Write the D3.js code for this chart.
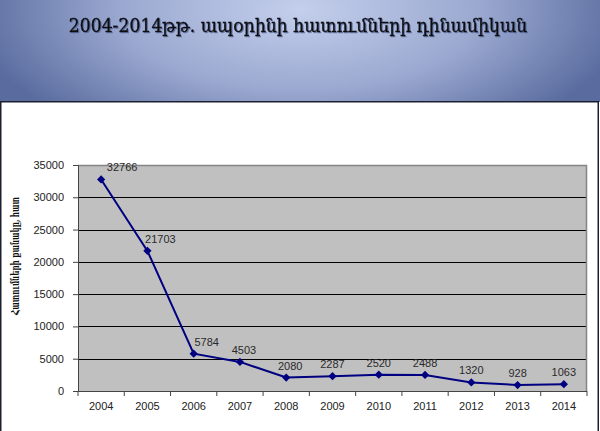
<!DOCTYPE html>
<html><head><meta charset="utf-8">
<script src="https://cdn.jsdelivr.net/npm/d3@7"></script>
<style>body{margin:0;background:#fff;}svg{display:block;}</style>
</head><body>
<svg id="c" width="600" height="431"></svg>
<script>
const years = ["2004","2005","2006","2007","2008","2009","2010","2011","2012","2013","2014"];
const values = [32766,21703,5784,4503,2080,2287,2520,2488,1320,928,1063];
const yTicks = [0,5000,10000,15000,20000,25000,30000,35000];
const titleText = "2004-2014թթ. ապօրինի հատումների դինամիկան";
const yLabelText = "Հատումների քանակը, հատ";

const svg = d3.select("#c");
const defs = svg.append("defs");
const rg = defs.append("radialGradient").attr("id","hg")
  .attr("gradientUnits","userSpaceOnUse")
  .attr("cx",300).attr("cy",10).attr("r",330).attr("fx",300).attr("fy",10)
  .attr("gradientTransform","translate(300,10) scale(1,0.45) translate(-300,-10)");
rg.append("stop").attr("offset",0).attr("stop-color","#c4cfec");
rg.append("stop").attr("offset",0.55).attr("stop-color","#9aa8d0");
rg.append("stop").attr("offset",1).attr("stop-color","#5a6c9f");

svg.append("rect").attr("x",0).attr("y",0).attr("width",600).attr("height",102).attr("fill","url(#hg)");

const f = defs.append("filter").attr("id","sh").attr("filterUnits","userSpaceOnUse")
  .attr("x",0).attr("y",0).attr("width",600).attr("height",60);
f.append("feDropShadow").attr("dx",1).attr("dy",1).attr("stdDeviation",0.6).attr("flood-color","#4a5a86").attr("flood-opacity",0.7);

const title = svg.append("text").attr("x",298).attr("y",32).attr("text-anchor","middle")
  .attr("font-family","'DejaVu Serif Condensed', 'DejaVu Serif', serif").attr("font-size",22)
  .attr("fill","#0a0a0a").attr("stroke","#0a0a0a").attr("stroke-width",0.35)
  .attr("filter","url(#sh)").text(titleText);
const tw = title.node().getComputedTextLength();
if (tw > 0) title.attr("font-size", Math.min(24, 22*459/tw));

// panel
svg.append("rect").attr("x",0.75).attr("y",101.75).attr("width",597.5).attr("height",340)
  .attr("fill","#fff").attr("stroke","#1c1f2e").attr("stroke-width",1.5);

const L=78, R=587, T=165, B=391;
const x = d3.scaleBand().domain(years).range([L,R]).padding(0);
const y = d3.scaleLinear().domain([0,35000]).range([B,T]);

svg.append("rect").attr("x",L).attr("y",T).attr("width",R-L).attr("height",B-T).attr("fill","#c0c0c0");

// gridlines
svg.append("g").selectAll("line").data(yTicks.filter(v=>v>0 && v<35000)).join("line")
  .attr("x1",L).attr("x2",R).attr("y1",d=>Math.round(y(d))+0.5).attr("y2",d=>Math.round(y(d))+0.5)
  .attr("stroke","#000").attr("stroke-width",1);

// plot border top/right
svg.append("path").attr("d",`M${L},${T+0.5}H${R-0.5}V${B}`).attr("fill","none").attr("stroke","#858585").attr("stroke-width",1.5);

// y axis
const ya = svg.append("g").attr("transform",`translate(${L},0)`)
  .call(d3.axisLeft(y).tickValues(yTicks).tickSize(5).tickPadding(9).tickFormat(d3.format("d")));
ya.select(".domain").attr("stroke","#444");
ya.selectAll(".tick line").attr("stroke","#444");
ya.selectAll("text").attr("font-family","Arial, 'Liberation Sans', sans-serif").attr("font-size",11).attr("fill","#222");

// x axis
const xa = svg.append("g").attr("transform",`translate(0,${B})`)
  .call(d3.axisBottom(x).tickSize(0).tickPadding(11));
xa.select(".domain").attr("stroke","#444").attr("d",`M${L},0.5H${R}`);
xa.selectAll("text").attr("font-family","Arial, 'Liberation Sans', sans-serif").attr("font-size",11).attr("fill","#222");
svg.append("g").selectAll("line").data(years.concat(["end"])).join("line")
  .attr("x1",d=>d==="end"?R:x(d)).attr("x2",d=>d==="end"?R:x(d))
  .attr("y1",B).attr("y2",B+5).attr("stroke","#444");

// line
const cx = d=>x(d)+x.bandwidth()/2;
const pts = years.map((yr,i)=>({yr, v:values[i], i}));
svg.append("path").datum(pts)
  .attr("d",d3.line().x(d=>cx(d.yr)).y(d=>y(d.v)))
  .attr("fill","none").attr("stroke","#000080").attr("stroke-width",2);

svg.append("g").selectAll("path").data(pts).join("path")
  .attr("d",d3.symbol(d3.symbolSquare,34)())
  .attr("transform",d=>`translate(${cx(d.yr)},${y(d.v)}) rotate(45)`)
  .attr("fill","#000080");

// labels: shifted right where the incoming segment falls steeply
svg.append("g").selectAll("text").data(pts).join("text")
  .attr("x",d=>{
    if (d.i===0) return cx(d.yr)+21;
    const drop = values[d.i-1]-d.v;
    return cx(d.yr) + (drop>5000 ? 13 : (d.i<5 ? 4 : 0));
  })
  .attr("y",d=>y(d.v)-8)
  .attr("text-anchor","middle")
  .attr("font-family","Arial, 'Liberation Sans', sans-serif").attr("font-size",11).attr("fill","#2a2a2a")
  .text(d=>d.v);

// y label
svg.append("text").attr("transform","translate(19,256) rotate(-90)").attr("text-anchor","middle")
  .attr("font-family","'DejaVu Serif', serif").attr("font-size",11).attr("font-weight","bold")
  .attr("textLength",118).attr("lengthAdjust","spacingAndGlyphs")
  .attr("fill","#111").text(yLabelText);
</script>
</body></html>
